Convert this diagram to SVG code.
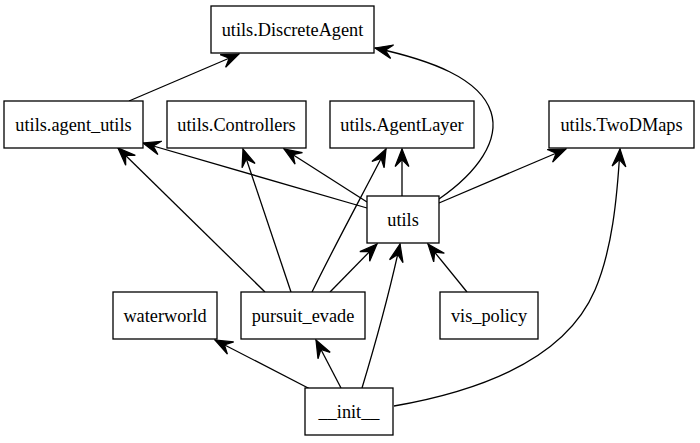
<svg xmlns="http://www.w3.org/2000/svg" width="700" height="443" viewBox="0 0 700 443">
<style>
.n rect{fill:#fff;stroke:#000;stroke-width:1.3}
.n text{font-family:"Liberation Serif","Times New Roman",serif;font-size:18.3px;text-anchor:middle;fill:#000}
.e path{fill:none;stroke:#000;stroke-width:1.3;marker-end:url(#vee)}
</style>
<defs>
<marker id="vee" markerUnits="userSpaceOnUse" markerWidth="20" markerHeight="20" viewBox="-15 -8 16 16" refX="0" refY="0" orient="auto">
<path d="M0,0 L-14,-5.5 L-8.5,0 L-14,5.5 Z" fill="#000" stroke="#000" stroke-width="1"/>
</marker>
</defs>
<rect width="700" height="443" fill="#fff"/>
<g id="edges" class="e">
<path d="M129,101 L239,54"/>
<path d="M439,199 C478,172 500,140 491,112 C480,78 430,60 375,48"/>
<path d="M367,208 L143,143"/>
<path d="M367,202 L284,149"/>
<path d="M402,196 L402,149"/>
<path d="M439,203 L566,149"/>
<path d="M265,292 L118,148"/>
<path d="M291,292 L243,149"/>
<path d="M312,292 C335,245 365,190 386,149"/>
<path d="M330,292 L377,244"/>
<path d="M467,292 L428,244"/>
<path d="M312,390 L215,340"/>
<path d="M341,388 L316,340"/>
<path d="M362,388 C375,345 390,290 400,244"/>
<path d="M394,406 C480,391 565,360 595,290 C612,250 617,200 620,149"/>
</g>
<g id="n_discreteagent" class="n"><rect x="211" y="6" width="163" height="47"/><text x="292.5" y="35.5">utils.DiscreteAgent</text></g>
<g id="n_agent_utils" class="n"><rect x="4" y="101" width="139" height="47"/><text x="73.5" y="130.5">utils.agent_utils</text></g>
<g id="n_controllers" class="n"><rect x="167" y="101" width="139" height="47"/><text x="236.5" y="130.5">utils.Controllers</text></g>
<g id="n_agentlayer" class="n"><rect x="330" y="101" width="144" height="47"/><text x="402" y="130.5">utils.AgentLayer</text></g>
<g id="n_twodmaps" class="n"><rect x="549" y="101" width="145" height="47"/><text x="621.5" y="130.5">utils.TwoDMaps</text></g>
<g id="n_utils" class="n"><rect x="367" y="196" width="72" height="47"/><text x="403" y="225.5">utils</text></g>
<g id="n_waterworld" class="n"><rect x="113" y="292" width="104" height="47"/><text x="165" y="321.5">waterworld</text></g>
<g id="n_pursuit_evade" class="n"><rect x="241" y="292" width="124" height="47"/><text x="303" y="321.5">pursuit_evade</text></g>
<g id="n_vis_policy" class="n"><rect x="440" y="292" width="98" height="47"/><text x="489" y="321.5">vis_policy</text></g>
<g id="n_init" class="n"><rect x="305" y="388" width="88" height="47"/><text x="349" y="417.5">__init__</text></g>
</svg>
